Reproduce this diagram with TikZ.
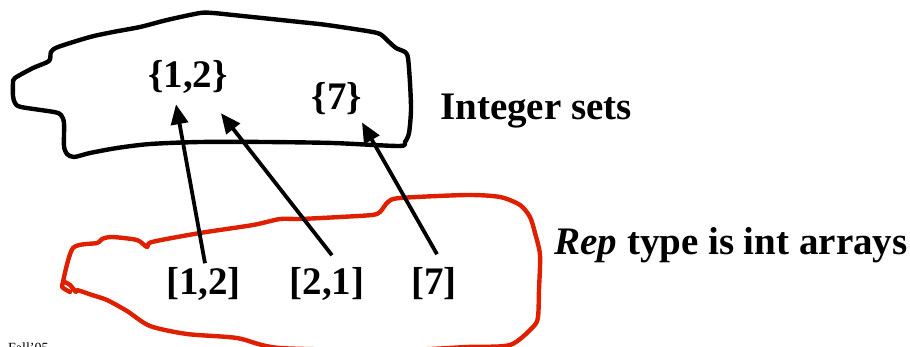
\documentclass[tikz,border=0pt]{standalone}
\usepackage{fontspec}
\setmainfont{Liberation Serif}
\usetikzlibrary{arrows.meta}
\definecolor{blobred}{RGB}{222,32,0}
\tikzset{
  lbl/.style={inner sep=0pt, anchor=base, font=\fontsize{39}{39}\selectfont\bfseries},
  arr/.style={line width=3.8pt, -{Triangle[length=20pt,width=17pt]}},
  blob/.style={line width=4.4pt, line join=round, line cap=round},
}
\begin{document}
\begin{tikzpicture}[x=1pt,y=-1pt]
\useasboundingbox (0,0) rectangle (910,346);
\clip (0,0) rectangle (910,346);
% black blob (Integer sets)
\draw[blob, black] plot[smooth cycle, tension=0.45] coordinates {
 (15,78) (33,68) (49,61) (51,52) (58,47) (90,37) (113,32) (140,27) (167,20)
 (200,13) (213,13) (233,15) (300,22) (327,25) (367,31) (380,34) (388,41)
 (396,48) (405,52) (408,58) (410,83) (411,110) (409,133) (405,142) (399,146)
 (333,143) (267,142) (200,142) (150,144) (117,148) (90,153) (74,157) (67,154)
 (64,146) (64,123) (61,115) (54,112) (21,107) (15,103) (13,96) (13,83)};
% red blob (Rep)
\draw[blob, blobred] plot[smooth, tension=0.45] coordinates {
 (70,292) (62,287) (64,282) (70,285) (76,292) (77,290) (92,295) (107,300) (127,311)
 (150,326) (187,334) (237,338) (280,348) (400,350) (467,347) (510,345)
 (533,327) (538,317) (539,290) (540,255) (535,233) (530,217) (520,205)
 (500,197) (467,195) (400,198) (388,202) (380,212) (372,215) (340,217)
 (300,219) (280,219) (253,225) (200,233) (152,242) (147,247) (137,240)
 (112,237) (102,239) (97,243) (73,248) (63,282)};
% labels
\node[lbl] (s12) at (188,87) {\{1,2\}};
\node[lbl] (s7) at (337,109) {\{7\}};
\node[lbl] (title1) at (536,119) {Integer sets};
\node[lbl] (title2) at (731,254) {\textit{Rep} type is int arrays};
\node[lbl] (a12) at (203.5,294) {[1,2]};
\node[lbl] (a21) at (327,294) {[2,1]};
\node[lbl] (a7) at (434,294) {[7]};
\node[inner sep=0pt, anchor=base west, font=\fontsize{14}{14}\selectfont] (foot) at (8,352.5) {Fall'05};
% arrows
\draw[arr] ([shift={(1.5,-3.5)}]a12.north) -- ([shift={(-12,11)}]s12.south);
\draw[arr] ([shift={(5,-11.5)}]a21.north) -- ([shift={(-7,20)}]s12.south east);
\draw[arr] ([shift={(3,-12.5)}]a7.north) -- ([shift={(25,8)}]s7.south);
\end{tikzpicture}
\end{document}
